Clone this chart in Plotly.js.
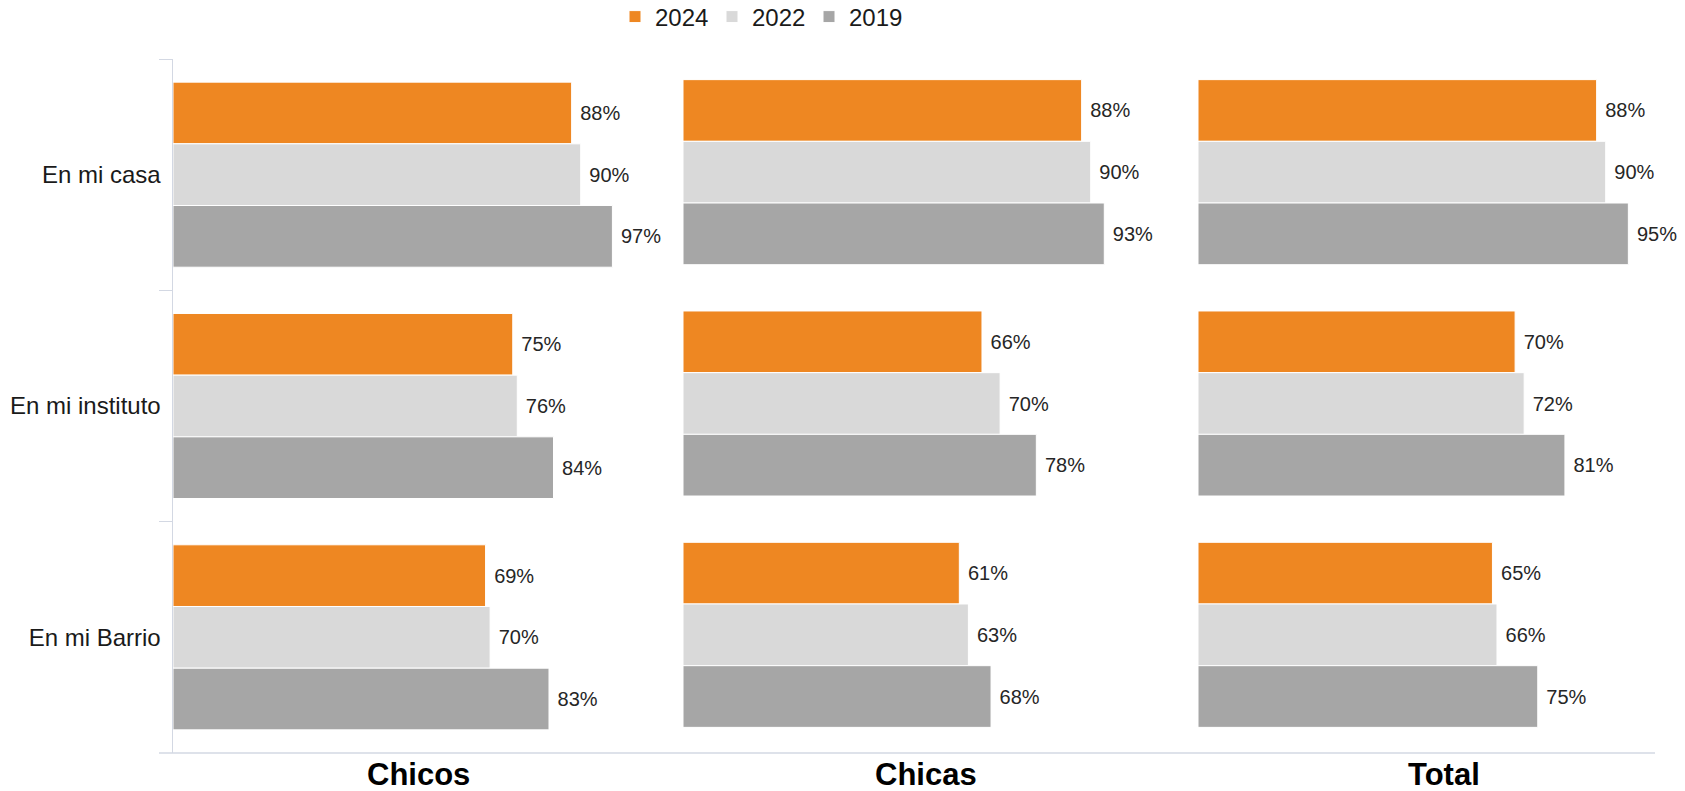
<!DOCTYPE html>
<html>
<head>
<meta charset="utf-8">
<script src="https://cdn.plot.ly/plotly-3.0.1.min.js"></script>
<style>
  html, body { margin: 0; padding: 0; background: #fff; }
  #chart { width: 1685px; height: 791px; }
</style>
</head>
<body>
<div id="chart"></div>
<script>
var lugares = ['En mi casa', 'En mi instituto', 'En mi Barrio'];
var years = ['2024', '2022', '2019'];
var colors = ['#EE8722', '#D9D9D9', '#A6A6A6'];
var grupos = ['Chicos', 'Chicas', 'Total'];

// values per group, one array per year (2024, 2022, 2019)
var chicos = [[88, 75, 69], [90, 76, 70], [97, 84, 83]];
var chicas = [[88, 66, 61], [90, 70, 63], [93, 78, 68]];
var total  = [[88, 70, 65], [90, 72, 66], [95, 81, 75]];

var W = 1685, H = 791;
function px(x) { return x / W; }
function py(y) { return 1 - y / H; }

var panels = [
  { vals: chicos, xa: 'x',  ya: 'y'  },
  { vals: chicas, xa: 'x2', ya: 'y2' },
  { vals: total,  xa: 'x3', ya: 'y2' }
];

var data = [];
panels.forEach(function (p, pi) {
  years.forEach(function (yr, i) {
    data.push({
      type: 'bar',
      orientation: 'h',
      name: yr,
      legendgroup: yr,
      showlegend: pi === 0,
      x: p.vals[i],
      y: lugares,
      xaxis: p.xa,
      yaxis: p.ya,
      marker: { color: colors[i], line: { color: '#ffffff', width: 1 } },
      texttemplate: '\u00a0%{x}%',
      textposition: 'outside',
      cliponaxis: false,
      textfont: { family: 'Liberation Sans, Arial, sans-serif', size: 20, color: '#262626' },
      hoverinfo: 'x+y+name'
    });
  });
});

var xbase = { range: [0, 100], visible: false, fixedrange: true };

var layout = {
  width: W,
  height: H,
  margin: { l: 0, r: 0, t: 0, b: 0, autoexpand: false },
  paper_bgcolor: '#ffffff',
  plot_bgcolor: '#ffffff',
  barmode: 'group',
  bargap: 0.2,
  bargroupgap: 0,
  font: { family: 'Liberation Sans, Arial, sans-serif', color: '#1a1a1a' },
  xaxis: Object.assign({ domain: [px(173), px(626)], anchor: 'y' }, xbase),
  xaxis2: Object.assign({ domain: [px(683), px(1136)], anchor: 'y2' }, xbase),
  xaxis3: Object.assign({ domain: [px(1198), px(1651)], anchor: 'y2' }, xbase),
  yaxis: {
    domain: [py(753), py(59)],
    anchor: 'x',
    autorange: 'reversed',
    showline: true,
    linecolor: '#D3D8E3',
    linewidth: 1.5,
    ticks: 'outside',
    tickson: 'boundaries',
    ticklen: 13,
    tickcolor: '#D3D8E3',
    ticklabelstandoff: 6,
    showgrid: false,
    zeroline: false,
    tickfont: { size: 24, color: '#1a1a1a' }
  },
  yaxis2: {
    domain: [py(750.5), py(56.5)],
    anchor: 'x2',
    autorange: 'reversed',
    showticklabels: false,
    showgrid: false,
    zeroline: false,
    showline: false,
    ticks: ''
  },
  legend: {
    orientation: 'h',
    x: px(615),
    xanchor: 'left',
    y: py(17),
    yanchor: 'middle',
    font: { size: 24, color: '#1a1a1a' },
    itemwidth: 30,
    entrywidth: 52,
    entrywidthmode: 'pixels',
    traceorder: 'normal'
  },
  shapes: [
    {
      type: 'line', xref: 'paper', yref: 'paper',
      x0: px(159), x1: px(1655), y0: py(753), y1: py(753),
      line: { color: '#D3D8E3', width: 1.5 }
    }
  ],
  annotations: grupos.map(function (g, i) {
    var cx = [418, 926, 1444][i];
    return {
      text: '<b>' + g + '</b>',
      xref: 'paper', yref: 'paper',
      x: px(cx), y: py(774),
      xanchor: 'center', yanchor: 'middle',
      showarrow: false,
      font: { size: 31, color: '#000000', family: 'Liberation Sans, Arial, sans-serif' }
    };
  })
};

Plotly.newPlot('chart', data, layout, { displayModeBar: false, staticPlot: true });
</script>
</body>
</html>
